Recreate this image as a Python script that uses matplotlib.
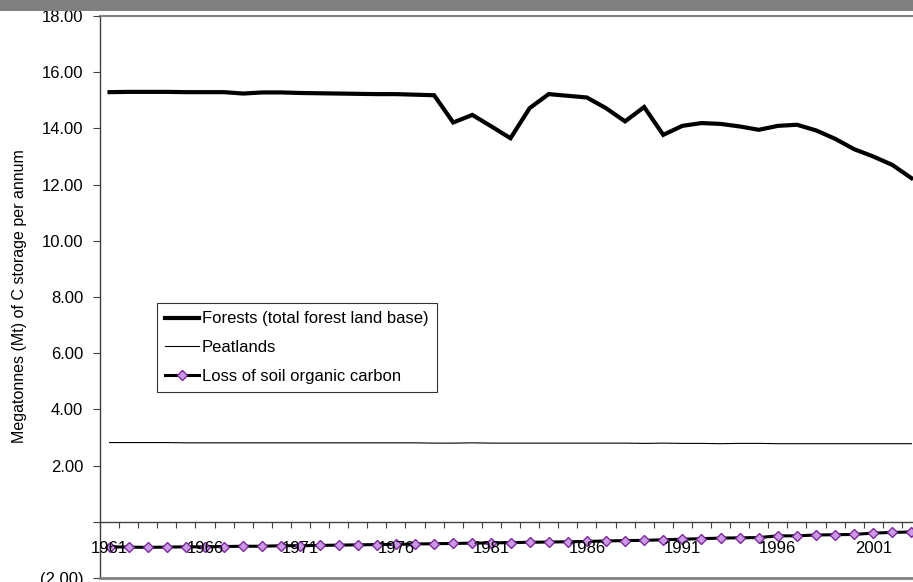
import matplotlib
matplotlib.use("Agg")
import matplotlib.pyplot as plt
from matplotlib.patches import Rectangle
from matplotlib.lines import Line2D
from matplotlib.ticker import FixedLocator, FuncFormatter

plt.rcParams['font.family'] = ['Liberation Sans', 'DejaVu Sans']

years = list(range(1961, 2004))
forests = [15.29, 15.30, 15.30, 15.30, 15.29, 15.29, 15.29, 15.24, 15.28, 15.28,
           15.26, 15.25, 15.24, 15.23, 15.22, 15.22, 15.20, 15.18, 14.21, 14.48,
           14.07, 13.65, 14.72, 15.22, 15.16, 15.10, 14.72, 14.25, 14.76, 13.77,
           14.09, 14.19, 14.16, 14.07, 13.95, 14.09, 14.13, 13.93, 13.63, 13.26,
           13.00, 12.70, 12.23]
peatlands = [2.82, 2.82, 2.82, 2.82, 2.81, 2.81, 2.81, 2.81, 2.81, 2.81,
             2.81, 2.81, 2.81, 2.81, 2.81, 2.81, 2.81, 2.80, 2.80, 2.81,
             2.80, 2.80, 2.80, 2.80, 2.80, 2.80, 2.80, 2.80, 2.79, 2.80,
             2.79, 2.79, 2.78, 2.79, 2.79, 2.78, 2.78, 2.78, 2.78, 2.78,
             2.78, 2.78, 2.78]
soil = [-0.89, -0.90, -0.91, -0.90, -0.89, -0.89, -0.88, -0.87, -0.87, -0.85,
        -0.85, -0.84, -0.83, -0.82, -0.81, -0.80, -0.79, -0.78, -0.77, -0.76,
        -0.75, -0.74, -0.73, -0.72, -0.71, -0.70, -0.68, -0.67, -0.66, -0.64,
        -0.62, -0.60, -0.58, -0.57, -0.56, -0.50, -0.50, -0.47, -0.46, -0.45,
        -0.40, -0.38, -0.36]
series_labels = ["Forests (total forest land base)", "Peatlands", "Loss of soil organic carbon"]
ylabel_text = "Megatonnes (Mt) of C storage per annum"
y_ticks = [-2, 0, 2, 4, 6, 8, 10, 12, 14, 16, 18]

W, H = 913, 582
fig = plt.figure(figsize=(W / 100, H / 100), dpi=100)
ax = fig.add_axes([100 / W, 4 / H, 821 / W, 562 / H])

x = list(range(len(years)))
ax.plot(x, forests, color='black', lw=3.0, solid_joinstyle='miter', label=series_labels[0], zorder=2)
ax.plot(x, peatlands, color='black', lw=0.8, label=series_labels[1], zorder=2)
ax.plot(x, soil, color='black', lw=2.2, marker='D', markersize=5.5,
        markerfacecolor='#CC99E6', markeredgecolor='#7A2A9A', markeredgewidth=1.0,
        label=series_labels[2], zorder=2)

ax.set_xlim(-0.5, len(years) - 0.5)
ax.set_ylim(-2, 18)

# y axis
ax.yaxis.set_major_locator(FixedLocator(y_ticks))
def yfmt(v, pos):
    if abs(v) < 1e-9:
        return ""
    if v < 0:
        return "({:.2f})".format(-v)
    return "{:.2f}".format(v)
ax.yaxis.set_major_formatter(FuncFormatter(yfmt))
ax.tick_params(axis='y', direction='out', length=5, width=0.8, color='#404040',
               labelsize=12, pad=7)

# x axis at zero
ax.spines['bottom'].set_position(('data', 0))
ax.spines['bottom'].set_color('#404040')
ax.spines['bottom'].set_linewidth(1.0)
ax.xaxis.set_major_locator(FixedLocator([i - 0.5 for i in range(len(years) + 1)]))
ax.xaxis.set_major_formatter(FuncFormatter(lambda v, p: ""))
label_pos = [i for i, yr in enumerate(years) if (yr - 1961) % 5 == 0]
ax.xaxis.set_minor_locator(FixedLocator(label_pos))
ax.xaxis.set_minor_formatter(FuncFormatter(lambda v, p: str(years[int(round(v))])))
ax.tick_params(axis='x', which='major', direction='out', length=4, width=0.8, color='#404040')
ax.tick_params(axis='x', which='minor', length=0, labelsize=12, pad=14)
ax.set_axisbelow(False)
ax.xaxis.set_zorder(3)

ax.spines['left'].set_color('#404040')
ax.spines['left'].set_linewidth(1.0)
ax.spines['top'].set_color('#808080')
ax.spines['top'].set_linewidth(1.5)
ax.spines['right'].set_visible(False)
ax.add_line(Line2D([0, 1], [0, 0], transform=ax.transAxes, color='#808080', lw=2.0,
                   clip_on=False, zorder=3))

fig.text(20 / W, 1 - 296 / H, ylabel_text, rotation=90, ha='center', va='center', fontsize=11.5)

leg = ax.legend(loc='upper left', bbox_to_anchor=((157 - 100) / 821, (578 - 303) / 562),
                borderaxespad=0, frameon=True, fancybox=False, edgecolor='black',
                fontsize=12, handlelength=2.0, handletextpad=0.2, borderpad=0.5,
                labelspacing=0.82)
leg.get_frame().set_linewidth(0.8)

fig.add_artist(Rectangle((0, 1 - 11 / H), 1, 11 / H, transform=fig.transFigure,
                         facecolor='#808080', edgecolor='none', zorder=10))

fig.savefig("out.png", dpi=100)
